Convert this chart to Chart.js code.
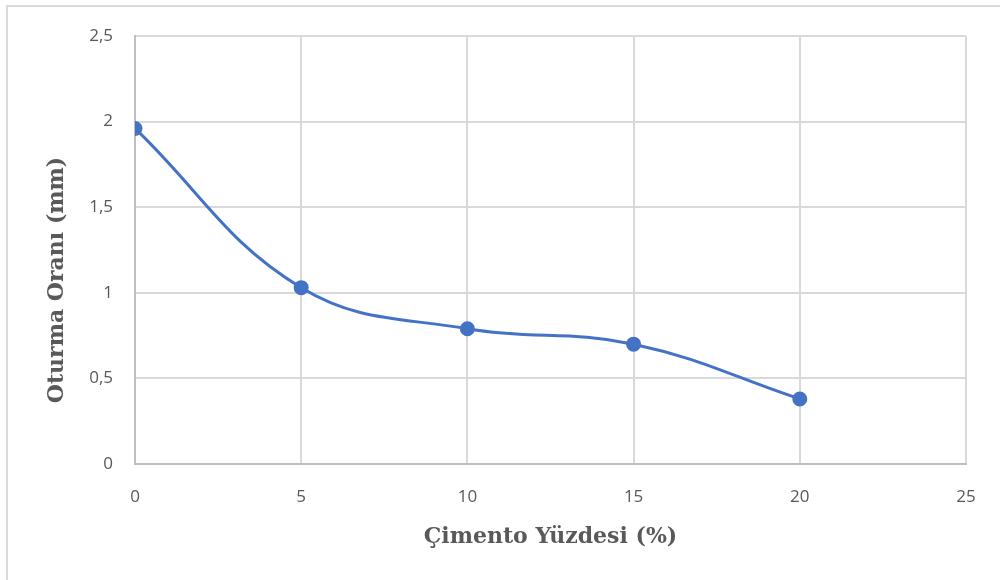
<!DOCTYPE html>
<html>
<head>
<meta charset="utf-8">
<script src="https://cdn.jsdelivr.net/npm/chart.js@4"></script>
<style>
  html, body { margin: 0; padding: 0; background: #fff; }
  #wrap { position: relative; width: 1000px; height: 580px; overflow: hidden; }
  #frame { position: absolute; left: 6px; top: 5px; width: 1100px; height: 700px;
           border-top: 2px solid #d9d9d9; border-left: 2px solid #d9d9d9; }
  canvas { position: absolute; left: 0; top: 0; }
</style>
</head>
<body>
<div id="wrap">
  <div id="frame"></div>
  <canvas id="chart" width="1000" height="580"></canvas>
</div>
<script>
// chart data
var cementPercent = [0, 5, 10, 15, 20];
var settlement = [1.96, 1.03, 0.79, 0.70, 0.38];
var xTitle = "Çimento Yüzdesi (%)";
var yTitle = "Oturma Oranı (mm)";

var points = [];
for (var i = 0; i < cementPercent.length; i++) {
    points.push({ x: cementPercent[i], y: settlement[i] });
}

// draws the two axis titles where the original puts them
var axisTitles = {
    id: "axisTitles",
    afterDraw: function(chart) {
        var ctx = chart.ctx;
        var area = chart.chartArea;
        ctx.save();
        ctx.fillStyle = "#595959";
        ctx.font = "bold 22px 'DejaVu Serif', serif";
        ctx.textAlign = "center";
        ctx.textBaseline = "middle";
        ctx.fillText(xTitle, (area.left + area.right) / 2, 537);
        ctx.translate(57, 280);
        ctx.rotate(-Math.PI / 2);
        ctx.fillText(yTitle, 0, 0);
        ctx.restore();
    }
};

new Chart(document.getElementById("chart"), {
    type: "line",
    data: {
        datasets: [{
            data: points,
            borderColor: "#4472c4",
            backgroundColor: "#4472c4",
            borderWidth: 3,
            pointRadius: 6,
            pointHoverRadius: 6,
            tension: 0.4,
            fill: false
        }]
    },
    options: {
        responsive: false,
        animation: false,
        layout: { padding: { top: 36, right: 34, left: 0, bottom: 0 } },
        plugins: { legend: { display: false }, tooltip: { enabled: false } },
        scales: {
            x: {
                type: "linear",
                min: 0,
                max: 25,
                ticks: { stepSize: 5, color: "#595959", padding: 23,
                         font: { size: 17, family: "'Open Sans', sans-serif" } },
                grid: { color: "#d9d9d9", lineWidth: 2, drawTicks: false },
                border: { color: "#bfbfbf", width: 2 },
                afterFit: function(scale) { scale.height = 116; }
            },
            y: {
                min: 0,
                max: 2.5,
                ticks: { stepSize: 0.5, color: "#595959", padding: 22,
                         font: { size: 17, family: "'Open Sans', sans-serif" },
                         callback: function(v) { return String(v).replace(".", ","); } },
                grid: { color: "#d9d9d9", lineWidth: 2, drawTicks: false },
                border: { color: "#bfbfbf", width: 2 },
                afterFit: function(scale) { scale.width = 135; }
            }
        }
    },
    plugins: [axisTitles]
});
</script>
</body>
</html>
